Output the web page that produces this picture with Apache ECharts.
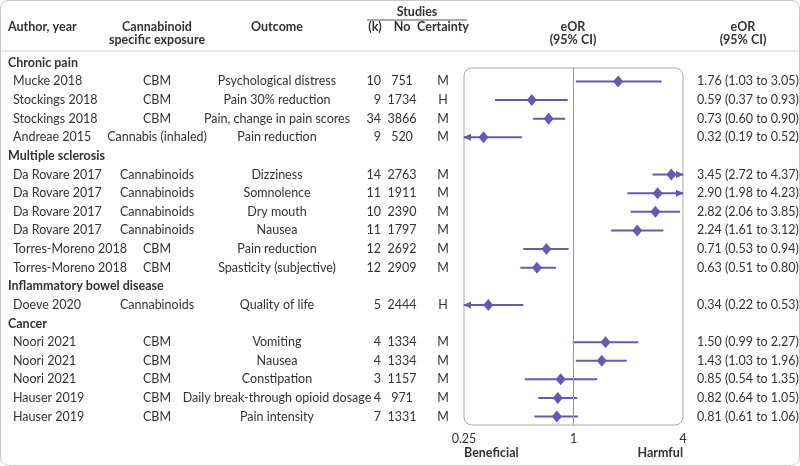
<!DOCTYPE html>
<html><head><meta charset="utf-8">
<script src="https://cdn.jsdelivr.net/npm/echarts@6/dist/echarts.min.js"></script>
<style>html,body{margin:0;padding:0;background:#fff}#c{width:800px;height:466px}</style>
</head><body><div id="c"></div>
<script>
// rows: group headers have null values
const authors = ['Chronic pain','Mucke 2018','Stockings 2018','Stockings 2018','Andreae 2015','Multiple sclerosis','Da Rovare 2017','Da Rovare 2017','Da Rovare 2017','Da Rovare 2017','Torres-Moreno 2018','Torres-Moreno 2018','Inflammatory bowel disease','Doeve 2020','Cancer','Noori 2021','Noori 2021','Noori 2021','Hauser 2019','Hauser 2019'];
const isGroup = [1,0,0,0,0,1,0,0,0,0,0,0,1,0,1,0,0,0,0,0];
const exposures = ['','CBM','CBM','CBM','Cannabis (inhaled)','','Cannabinoids','Cannabinoids','Cannabinoids','Cannabinoids','CBM','CBM','','Cannabinoids','','CBM','CBM','CBM','CBM','CBM'];
const outcomes = ['','Psychological distress','Pain 30% reduction','Pain, change in pain scores','Pain reduction','','Dizziness','Somnolence','Dry mouth','Nausea','Pain reduction','Spasticity (subjective)','','Quality of life','','Vomiting','Nausea','Constipation','Daily break-through opioid dosage','Pain intensity'];
const kStudies = ['','10','9','34','9','','14','11','10','11','12','12','','5','','4','4','3','4','7'];
const nParticipants = ['','751','1734','3866','520','','2763','1911','2390','1797','2692','2909','','2444','','1334','1334','1157','971','1331'];
const certainty = ['','M','H','M','M','','M','M','M','M','M','M','','H','','M','M','M','M','M'];
const eor = [null,1.76,0.59,0.73,0.32,null,3.45,2.90,2.82,2.24,0.71,0.63,null,0.34,null,1.50,1.43,0.85,0.82,0.81];
const lower = [null,1.03,0.37,0.60,0.19,null,2.72,1.98,2.06,1.61,0.53,0.51,null,0.22,null,0.99,1.03,0.54,0.64,0.61];
const upper = [null,3.05,0.93,0.90,0.52,null,4.37,4.23,3.85,3.12,0.94,0.80,null,0.53,null,2.27,1.96,1.35,1.05,1.06];
const axisTicks = [0.25,1,4];

const purple = '#6a56b4';
const FONT = 'Lato';
const chart = echarts.init(document.getElementById('c'));
const ciData = [], ptData = [];
eor.forEach((v,i)=>{ if(v!=null){ ciData.push([lower[i],upper[i],i]); ptData.push([v,i]); }});

chart.setOption({
  animation:false,
  grid:{left:464,right:117,top:68,bottom:41},
  xAxis:{type:'log',logBase:2,min:0.25,max:4,
    axisLine:{show:false},axisTick:{show:false},splitLine:{show:false},
    axisLabel:{margin:7,fontFamily:FONT,fontSize:12.5,color:'#333',
      formatter:v=>axisTicks.some(t=>Math.abs(t-v)<1e-9)?String(v):'' ,
      showMinLabel:true,showMaxLabel:true}},
  yAxis:{type:'value',inverse:true,min:0.28,max:19.45,show:false},
  series:[
    {type:'custom',renderItem:(params,api)=>{
      const lo=api.value(0),hi=api.value(1),r=api.value(2);
      const xmin=0.25,xmax=4;
      const a=api.coord([Math.max(lo,xmin),r]),b=api.coord([Math.min(hi,xmax),r]);
      const ch=[{type:'line',shape:{x1:a[0],y1:a[1],x2:b[0],y2:b[1]},style:{stroke:purple,lineWidth:2}}];
      if(lo<xmin) ch.push({type:'polygon',shape:{points:[[a[0]-1,a[1]],[a[0]+7,a[1]-3.5],[a[0]+7,a[1]+3.5]]},style:{fill:purple}});
      if(hi>xmax) ch.push({type:'polygon',shape:{points:[[b[0]+1,b[1]],[b[0]-7,b[1]-3.5],[b[0]-7,b[1]+3.5]]},style:{fill:purple}});
      return {type:'group',children:ch};
    },data:ciData,z:3},
    {type:'scatter',data:ptData,symbol:'diamond',symbolSize:[10,12],itemStyle:{color:purple,opacity:1},z:4,
     markLine:{silent:true,symbol:'none',label:{show:false},lineStyle:{color:'#999',type:'solid',width:1},
       data:[[{coord:[1,0.28]},{coord:[1,19.45]}]]}}
  ]
});

const rowY = i => chart.convertToPixel({yAxisIndex:0}, i);
const txt=(x,y,s,o={})=>({type:'text',x:x,y:y,silent:true,style:Object.assign({text:s,fontFamily:FONT,fontSize:12.5,fill:'#333',textAlign:'left',textVerticalAlign:'middle'},o)});
const g=[];
g.push({type:'rect',shape:{x:0.5,y:0.5,width:799,height:465,r:8},style:{fill:'none',stroke:'#c8c8c8',lineWidth:1}});
g.push({type:'rect',shape:{x:464,y:68,width:219,height:357,r:8},style:{fill:'none',stroke:'#aaa',lineWidth:1}});
g.push({type:'line',shape:{x1:1,y1:51,x2:799,y2:51},style:{stroke:'#d0d0d0',lineWidth:1}});
g.push({type:'line',shape:{x1:367,y1:20,x2:467,y2:20},style:{stroke:'#555',lineWidth:1}});
const B={fontWeight:'bold'};
g.push(txt(8,27,'Author, year',B));
g.push(txt(157,27,'Cannabinoid',Object.assign({textAlign:'center'},B)));
g.push(txt(157,40,'specific exposure',Object.assign({textAlign:'center'},B)));
g.push(txt(277,27,'Outcome',Object.assign({textAlign:'center'},B)));
g.push(txt(417,12,'Studies',Object.assign({textAlign:'center'},B)));
g.push(txt(375,27,'(k)',Object.assign({textAlign:'center'},B)));
g.push(txt(402,27,'No',Object.assign({textAlign:'center'},B)));
g.push(txt(443,27,'Certainty',Object.assign({textAlign:'center'},B)));
g.push(txt(573,27,'eOR',Object.assign({textAlign:'center'},B)));
g.push(txt(573,40,'(95% CI)',Object.assign({textAlign:'center'},B)));
g.push(txt(743,27,'eOR',Object.assign({textAlign:'center'},B)));
g.push(txt(743,40,'(95% CI)',Object.assign({textAlign:'center'},B)));
g.push(txt(464,453,'Beneficial',B));
g.push(txt(683,453,'Harmful',Object.assign({textAlign:'right'},B)));
authors.forEach((a,i)=>{
  const y=rowY(i);
  if(isGroup[i]){ g.push(txt(8,y,a,B)); return; }
  g.push(txt(13,y,a));
  g.push(txt(157,y,exposures[i],{textAlign:'center'}));
  g.push(txt(277,y,outcomes[i],{textAlign:'center'}));
  g.push(txt(381,y,kStudies[i],{textAlign:'right'}));
  g.push(txt(402,y,nParticipants[i],{textAlign:'center'}));
  g.push(txt(443,y,certainty[i],{textAlign:'center'}));
  g.push(txt(697,y,eor[i].toFixed(2)+' ('+lower[i].toFixed(2)+' to '+upper[i].toFixed(2)+')'));
});
chart.setOption({graphic:g});
</script></body></html>
